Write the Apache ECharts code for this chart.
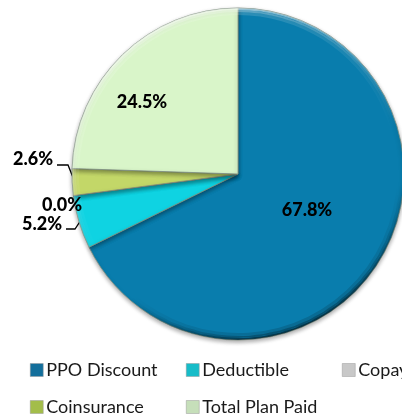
<!DOCTYPE html>
<html>
<head>
<meta charset="utf-8">
<style>html,body{margin:0;padding:0;background:#fff}#chart{width:402px;height:418px}</style>
<script src="https://cdn.jsdelivr.net/npm/echarts@6/dist/echarts.min.js"></script>
</head>
<body>
<div id="chart"></div>
<script>
const categories = ['PPO Discount', 'Deductible', 'Copay', 'Coinsurance', 'Total Plan Paid'];
const values = [67.8, 5.2, 0.0, 2.6, 24.5];
const baseColors = ['#097dad', '#0fd3e2', '#c4c4c4', '#c3d768', '#d9f5c9'];
const legendIcons = ['#136f9c', '#17bcc8', '#c8c8c8', '#a3bd4a', '#c6dfba'];
const labelSpots = {
    'PPO Discount': [307, 210],
    'Deductible': [42, 224],
    'Copay': [62, 205],
    'Coinsurance': [33, 159],
    'Total Plan Paid': [142, 102]
};
const leaderLines = {
    'Deductible': [[66, 229], [75, 229], [81, 220]],
    'Coinsurance': [[57, 165], [68, 165], [74, 180]]
};
const legendSpots = [[30, 361], [186, 361], [342, 361], [30, 398], [186, 398]];

const cx = 238, cy = 174, radius = 166;

const chart = echarts.init(document.getElementById('chart'));

// rim of the slices: lit from the top left, darker toward the bottom right
function rimShade(alpha) {
    return {
        type: 'linear', x: cx - 70, y: cy - radius, x2: cx + 70, y2: cy + radius, global: true,
        colorStops: [
            { offset: 0, color: 'rgba(255,255,255,' + alpha + ')' },
            { offset: 0.55, color: 'rgba(255,255,255,0)' },
            { offset: 0.7, color: 'rgba(0,0,0,0)' },
            { offset: 1, color: 'rgba(0,0,0,' + alpha + ')' }
        ]
    };
}

function rimBand(inner, outer, alpha) {
    return {
        type: 'pie',
        center: [cx, cy],
        radius: [inner, outer],
        startAngle: 90,
        silent: true,
        label: { show: false },
        labelLine: { show: false },
        itemStyle: { color: rimShade(alpha), borderWidth: 0 },
        data: values.map(v => ({ value: v }))
    };
}

chart.setOption({
    animation: false,
    textStyle: { fontFamily: 'Lato' },
    legend: categories.map((name, i) => ({
        data: [{ name, itemStyle: { color: legendIcons[i], borderColor: '#999', borderWidth: 0.5 } }],
        left: legendSpots[i][0],
        top: legendSpots[i][1],
        icon: 'rect',
        itemWidth: 13,
        itemHeight: 13,
        itemGap: 0,
        padding: 0,
        selectedMode: false,
        textStyle: { fontFamily: 'Lato', fontSize: 18, color: '#1a1a1a', padding: [0, 0, 0, -2] }
    })),
    series: [{
        type: 'pie',
        center: [cx, cy],
        radius: [0, radius],
        startAngle: 90,
        clockwise: true,
        avoidLabelOverlap: false,
        minShowLabelAngle: -1,
        stillShowZeroSum: true,
        itemStyle: {
            borderColor: '#7f8f80',
            borderWidth: 0.8,
            shadowColor: 'rgba(0,0,0,0.35)',
            shadowBlur: 4,
            shadowOffsetY: 2
        },
        label: {
            position: 'outside',
            formatter: p => p.value.toFixed(1) + '%',
            fontFamily: 'Lato',
            fontWeight: 900,
            fontSize: 18,
            color: '#000'
        },
        labelLayout: params => {
            const name = categories[params.dataIndex];
            const spot = labelSpots[name];
            return {
                x: spot[0], y: spot[1], align: 'center', verticalAlign: 'middle',
                labelLinePoints: leaderLines[name]
            };
        },
        data: categories.map((name, i) => ({
            name,
            value: values[i],
            itemStyle: { color: baseColors[i] },
            labelLine: { show: !!leaderLines[name], lineStyle: { color: '#000', width: 1.3, shadowBlur: 0 } }
        }))
    },
    rimBand(radius - 2, radius, 0.65),
    rimBand(radius - 4, radius - 2, 0.42),
    rimBand(radius - 7, radius - 4, 0.18)]
});
</script>
</body>
</html>
